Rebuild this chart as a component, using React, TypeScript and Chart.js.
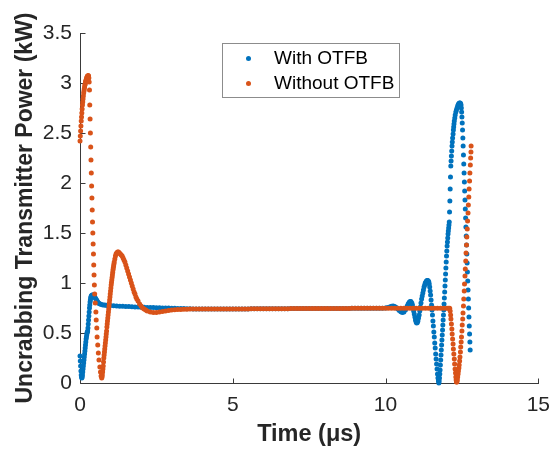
import React, { useEffect, useRef } from 'react';
import { Chart, registerables } from 'chart.js';

Chart.register(...registerables);

// ---------- data ----------
const SERIES_LABELS = ['With OTFB', 'Without OTFB'];
const X_TITLE = 'Time (μs)';
const Y_TITLE = 'Uncrabbing Transmitter Power (kW)';
const X_RANGE = [0, 15];
const X_TICK_STEP = 5;
const Y_RANGE = [0, 3.5];
const Y_TICK_STEP = 0.5;

// [time (µs), power (kW)]
const WITH_OTFB: [number, number][] = [
  [0.00,0.27],[0.01,0.22],[0.02,0.17],[0.03,0.12],[0.04,0.08],[0.05,0.06],[0.06,0.05],[0.07,0.06],[0.08,0.08],[0.09,0.11],
  [0.10,0.14],[0.11,0.17],[0.12,0.20],[0.13,0.23],[0.14,0.26],[0.15,0.29],[0.16,0.32],[0.17,0.35],[0.18,0.38],[0.19,0.41],
  [0.20,0.44],[0.21,0.46],[0.22,0.48],[0.23,0.50],[0.24,0.51],[0.25,0.52],[0.26,0.55],[0.27,0.59],[0.28,0.63],[0.29,0.67],
  [0.30,0.71],[0.31,0.75],[0.32,0.78],[0.33,0.81],[0.34,0.83],[0.35,0.85],[0.36,0.86],[0.37,0.87],[0.38,0.875],[0.40,0.88],
  [0.42,0.88],[0.44,0.875],[0.46,0.87],[0.48,0.86],[0.50,0.85],[0.52,0.84],[0.54,0.83],[0.56,0.82],[0.58,0.81],[0.60,0.80],
  [0.63,0.795],[0.66,0.79],[0.70,0.785],[0.75,0.78],[0.80,0.78],[0.85,0.778],[0.90,0.776],[0.95,0.775],[1.00,0.774],
  [1.1,0.772],[1.2,0.770],[1.3,0.768],[1.4,0.767],[1.5,0.765],[1.6,0.764],[1.7,0.762],[1.8,0.761],[1.9,0.760],[2.0,0.758],
  [2.1,0.757],[2.2,0.756],[2.3,0.755],[2.4,0.754],[2.5,0.753],[2.6,0.752],[2.7,0.751],[2.8,0.750],[2.9,0.749],[3.0,0.748],
  [3.1,0.747],[3.2,0.746],[3.3,0.745],[3.4,0.744],[3.5,0.743],[3.6,0.742],[3.7,0.741],[3.8,0.740],[3.9,0.740],[4.0,0.740],
  [4.1,0.740],[4.2,0.740],[4.3,0.740],[4.4,0.740],[4.5,0.740],[4.6,0.740],[4.7,0.740],[4.8,0.741],[4.9,0.741],[5.0,0.741],
  [5.1,0.741],[5.2,0.741],[5.3,0.741],[5.4,0.741],[5.5,0.741],[5.6,0.742],[5.7,0.742],[5.8,0.742],[5.9,0.742],[6.0,0.742],
  [6.1,0.742],[6.2,0.742],[6.3,0.743],[6.4,0.743],[6.5,0.743],[6.6,0.743],[6.7,0.743],[6.8,0.743],[6.9,0.744],[7.0,0.744],
  [7.1,0.744],[7.2,0.744],[7.3,0.744],[7.4,0.744],[7.5,0.745],[7.6,0.745],[7.7,0.745],[7.8,0.745],[7.9,0.745],[8.0,0.745],
  [8.1,0.745],[8.2,0.746],[8.3,0.746],[8.4,0.746],[8.5,0.746],[8.6,0.746],[8.7,0.746],[8.8,0.746],[8.9,0.747],[9.0,0.747],
  [9.1,0.747],[9.2,0.747],[9.3,0.747],[9.4,0.747],[9.5,0.747],[9.6,0.748],[9.7,0.748],[9.8,0.748],[9.9,0.748],[10.0,0.750],
  [10.05,0.752],[10.1,0.756],[10.15,0.762],[10.2,0.768],[10.25,0.770],[10.3,0.765],[10.35,0.755],[10.4,0.740],[10.45,0.725],[10.5,0.712],
  [10.55,0.705],[10.6,0.710],[10.65,0.730],[10.68,0.750],[10.71,0.770],[10.74,0.790],[10.77,0.805],[10.80,0.815],[10.83,0.815],[10.86,0.800],
  [10.88,0.780],[10.90,0.750],[10.92,0.720],[10.94,0.690],[10.96,0.660],[10.98,0.630],[11.00,0.610],[11.02,0.600],[11.04,0.605],[11.06,0.620],
  [11.08,0.650],[11.10,0.680],[11.12,0.720],[11.14,0.760],[11.16,0.800],[11.18,0.840],[11.20,0.870],[11.22,0.900],[11.24,0.930],[11.26,0.960],
  [11.28,0.980],[11.30,1.000],[11.32,1.010],[11.34,1.020],[11.36,1.025],[11.38,1.025],[11.40,1.020],
  [11.415,1.01],[11.43,0.99],[11.445,0.96],[11.46,0.92],[11.475,0.88],[11.49,0.83],[11.505,0.78],[11.52,0.73],[11.535,0.68],[11.55,0.62],
  [11.565,0.57],[11.58,0.51],[11.595,0.46],[11.61,0.40],[11.625,0.35],[11.64,0.29],[11.655,0.24],[11.67,0.19],[11.685,0.14],[11.70,0.09],
  [11.715,0.05],[11.73,0.02],[11.745,0.00],[11.755,0.02],[11.765,0.05],[11.775,0.09],[11.785,0.13],[11.795,0.18],[11.805,0.23],[11.815,0.28],
  [11.825,0.33],[11.835,0.38],[11.845,0.43],[11.855,0.48],[11.865,0.53],[11.875,0.58],[11.885,0.63],[11.895,0.68],[11.905,0.73],[11.915,0.79],
  [11.925,0.85],[11.935,0.91],[11.945,0.97],[11.955,1.03],[11.965,1.09],[11.975,1.15],[11.985,1.21],[11.995,1.27],[12.005,1.32],[12.015,1.37],
  [12.025,1.41],[12.035,1.45],[12.045,1.49],[12.055,1.52],[12.065,1.55],[12.075,1.58],[12.085,1.61],[12.095,1.71],[12.105,1.82],[12.115,1.94],
  [12.125,2.06],[12.135,2.17],[12.145,2.22],[12.155,2.27],[12.165,2.32],[12.175,2.37],[12.185,2.41],[12.195,2.45],[12.21,2.49],[12.22,2.53],
  [12.23,2.56],[12.24,2.59],[12.25,2.62],[12.265,2.65],[12.28,2.68],[12.30,2.71],[12.32,2.73],[12.34,2.75],[12.36,2.77],[12.38,2.785],
  [12.40,2.795],[12.42,2.80],[12.44,2.80],[12.455,2.795],[12.47,2.78],[12.48,2.75],[12.49,2.71],[12.50,2.66],[12.51,2.60],[12.52,2.53],
  [12.53,2.45],[12.54,2.37],[12.55,2.28],[12.56,2.19],[12.57,2.10],[12.58,2.01],[12.59,1.92],[12.60,1.83],[12.61,1.74],[12.62,1.65],
  [12.63,1.56],[12.64,1.47],[12.65,1.38],[12.66,1.29],[12.67,1.20],[12.68,1.11],[12.69,1.02],[12.70,0.93],[12.71,0.84],[12.72,0.75],
  [12.73,0.66],[12.74,0.57],[12.75,0.49],[12.76,0.41],[12.77,0.33],
];

const WITHOUT_OTFB: [number, number][] = [
  [0.00,2.42],[0.01,2.47],[0.02,2.52],[0.03,2.57],[0.04,2.62],[0.05,2.66],[0.06,2.70],[0.07,2.74],[0.08,2.78],[0.09,2.81],
  [0.10,2.84],[0.11,2.87],[0.12,2.90],[0.13,2.92],[0.14,2.94],[0.15,2.96],[0.16,2.98],[0.17,2.99],[0.18,3.01],[0.19,3.02],
  [0.20,3.03],[0.21,3.04],[0.22,3.05],[0.23,3.06],[0.24,3.065],[0.25,3.07],[0.26,3.07],[0.27,3.075],[0.28,3.07],[0.29,3.05],
  [0.30,3.01],[0.31,2.93],[0.32,2.78],[0.33,2.64],[0.34,2.50],[0.35,2.36],[0.36,2.23],[0.37,2.10],[0.38,1.97],[0.39,1.85],
  [0.40,1.73],[0.41,1.61],[0.42,1.50],[0.43,1.39],[0.44,1.29],[0.45,1.18],[0.46,1.08],[0.47,0.98],[0.48,0.89],[0.50,0.80],
  [0.52,0.71],[0.53,0.63],[0.55,0.55],[0.56,0.46],[0.58,0.38],[0.60,0.30],[0.62,0.23],[0.65,0.16],[0.67,0.11],[0.69,0.07],
  [0.71,0.05],[0.72,0.06],[0.73,0.08],[0.74,0.11],[0.75,0.14],[0.76,0.17],[0.77,0.21],[0.78,0.25],[0.79,0.28],[0.80,0.31],
  [0.81,0.34],[0.82,0.37],[0.83,0.40],[0.84,0.43],[0.85,0.46],[0.86,0.49],[0.87,0.52],[0.88,0.56],[0.89,0.59],[0.90,0.62],
  [0.91,0.65],[0.92,0.68],[0.93,0.71],[0.94,0.74],[0.95,0.77],[0.96,0.80],[0.97,0.83],[0.98,0.86],[0.99,0.89],[1.00,0.92],
  [1.01,0.95],[1.02,0.98],[1.03,1.005],[1.04,1.03],[1.05,1.055],[1.06,1.08],[1.07,1.105],[1.08,1.13],[1.09,1.15],[1.10,1.17],
  [1.11,1.19],[1.12,1.21],[1.14,1.24],[1.16,1.27],[1.18,1.29],[1.20,1.30],[1.23,1.31],[1.26,1.31],[1.29,1.30],[1.32,1.29],
  [1.35,1.28],[1.38,1.27],[1.41,1.25],[1.44,1.23],[1.47,1.21],[1.50,1.18],[1.53,1.15],[1.56,1.12],[1.59,1.09],[1.62,1.06],
  [1.65,1.03],[1.68,1.00],[1.71,0.97],[1.74,0.94],[1.77,0.91],[1.80,0.89],[1.83,0.86],[1.86,0.84],[1.90,0.82],[1.95,0.79],
  [2.00,0.77],[2.05,0.75],[2.10,0.74],[2.15,0.73],[2.20,0.72],[2.30,0.71],[2.40,0.705],[2.50,0.705],[2.60,0.71],[2.70,0.715],
  [2.80,0.72],[2.90,0.725],[3.00,0.73],[3.1,0.733],[3.2,0.735],[3.3,0.736],[3.4,0.737],[3.5,0.738],[3.6,0.739],[3.7,0.740],
  [3.8,0.740],[3.9,0.740],[4.0,0.740],[4.1,0.740],[4.2,0.740],[4.3,0.740],[4.4,0.740],[4.5,0.740],[4.6,0.740],[4.7,0.740],
  [4.8,0.741],[4.9,0.741],[5.0,0.741],[5.1,0.741],[5.2,0.741],[5.3,0.741],[5.4,0.741],[5.5,0.741],[5.6,0.742],[5.7,0.742],
  [5.8,0.742],[5.9,0.742],[6.0,0.742],[6.1,0.742],[6.2,0.742],[6.3,0.743],[6.4,0.743],[6.5,0.743],[6.6,0.743],[6.7,0.743],
  [6.8,0.743],[6.9,0.744],[7.0,0.744],[7.1,0.744],[7.2,0.744],[7.3,0.744],[7.4,0.744],[7.5,0.745],[7.6,0.745],[7.7,0.745],
  [7.8,0.745],[7.9,0.745],[8.0,0.745],[8.1,0.745],[8.2,0.746],[8.3,0.746],[8.4,0.746],[8.5,0.746],[8.6,0.746],[8.7,0.746],
  [8.8,0.746],[8.9,0.747],[9.0,0.747],[9.1,0.747],[9.2,0.747],[9.3,0.747],[9.4,0.747],[9.5,0.747],[9.6,0.748],[9.7,0.748],
  [9.8,0.748],[9.9,0.748],[10.0,0.748],[10.1,0.748],[10.2,0.748],[10.3,0.748],[10.4,0.748],[10.5,0.748],[10.6,0.748],[10.7,0.748],
  [10.8,0.748],[10.9,0.748],[11.0,0.748],[11.1,0.748],[11.2,0.748],[11.3,0.748],[11.4,0.748],[11.5,0.748],[11.6,0.748],[11.7,0.748],
  [11.8,0.748],[11.9,0.748],[12.0,0.748],[12.05,0.748],[12.1,0.748],
  [12.115,0.72],[12.13,0.68],[12.14,0.64],[12.155,0.59],[12.17,0.54],[12.18,0.49],[12.195,0.44],[12.21,0.39],[12.22,0.34],[12.235,0.29],
  [12.25,0.24],[12.26,0.19],[12.275,0.14],[12.29,0.10],[12.30,0.06],[12.31,0.03],[12.32,0.01],[12.335,0.01],[12.35,0.03],[12.36,0.06],
  [12.375,0.09],[12.385,0.12],[12.40,0.15],[12.41,0.18],[12.425,0.22],[12.435,0.26],[12.45,0.31],[12.46,0.36],[12.475,0.41],[12.485,0.46],
  [12.50,0.52],[12.51,0.58],[12.525,0.64],[12.535,0.70],[12.55,0.77],[12.56,0.84],[12.575,0.92],[12.585,0.99],[12.60,1.07],[12.61,1.14],
  [12.625,1.22],[12.635,1.30],[12.65,1.38],[12.66,1.46],[12.675,1.54],[12.685,1.62],[12.70,1.70],[12.71,1.78],[12.725,1.86],[12.735,1.94],
  [12.75,2.02],[12.76,2.10],[12.775,2.18],[12.785,2.25],[12.795,2.31],[12.80,2.37],
];

// ---------- styles ----------
const COLORS = ['#0072BD', '#D95319'];
const FONT = "'Liberation Sans', Arial, Helvetica, sans-serif";
const TEXT = '#262626';
const AXIS = '#3a3a3a';
const DOT_R = 2.5;

const matlabDecor = {
  id: 'matlabDecor',
  beforeDatasetsDraw(chart: any) {
    const { ctx, chartArea: a, scales } = chart;
    ctx.save();
    ctx.strokeStyle = AXIS;
    ctx.lineWidth = 1;
    const L = Math.round(a.left) + 0.5;
    const B = Math.round(a.bottom) + 0.5;
    ctx.beginPath();
    ctx.moveTo(L, Math.round(a.top));
    ctx.lineTo(L, B);
    ctx.lineTo(Math.round(a.right) + 1, B);
    scales.x.ticks.forEach((t: any) => {
      const px = Math.round(scales.x.getPixelForValue(t.value)) + 0.5;
      ctx.moveTo(px, B);
      ctx.lineTo(px, B - 5);
    });
    scales.y.ticks.forEach((t: any) => {
      const py = Math.round(scales.y.getPixelForValue(t.value)) + 0.5;
      ctx.moveTo(L, py);
      ctx.lineTo(L + 5, py);
    });
    ctx.stroke();
    ctx.restore();
  },
  afterDraw(chart: any) {
    const { ctx } = chart;
    ctx.save();
    ctx.fillStyle = '#ffffff';
    ctx.fillRect(222, 43, 178, 55);
    ctx.strokeStyle = '#8c8c8c';
    ctx.lineWidth = 1;
    ctx.strokeRect(222.5, 43.5, 177, 54);
    const rows = [59, 84];
    ctx.font = `19px ${FONT}`;
    ctx.textBaseline = 'middle';
    ctx.textAlign = 'left';
    chart.data.datasets.forEach((ds: any, i: number) => {
      const y = rows[i];
      ctx.fillStyle = ds.backgroundColor;
      ctx.beginPath();
      ctx.arc(248.5, y - 0.5, DOT_R, 0, Math.PI * 2);
      ctx.fill();
      ctx.fillStyle = '#000000';
      ctx.fillText(ds.label, 274, y);
    });
    ctx.restore();
  },
};

export default function App() {
  const canvasRef = useRef<HTMLCanvasElement | null>(null);

  useEffect(() => {
    if (!canvasRef.current) return;
    const series = [WITH_OTFB, WITHOUT_OTFB];
    const chart = new Chart(canvasRef.current, {
      type: 'scatter',
      data: {
        datasets: series.map((s, i) => ({
          label: SERIES_LABELS[i],
          data: s.map(([x, y]) => ({ x, y })),
          backgroundColor: COLORS[i],
          borderColor: COLORS[i],
          pointRadius: DOT_R,
          pointHoverRadius: DOT_R,
          pointBorderWidth: 0,
          showLine: false,
          clip: false as any,
          order: i === 0 ? 2 : 1,
        })),
      },
      options: {
        animation: false,
        responsive: false,
        devicePixelRatio: 1,
        events: [],
        layout: { padding: { left: 0, right: 17, top: 33, bottom: 0 } },
        plugins: { legend: { display: false }, tooltip: { enabled: false } },
        scales: {
          x: {
            type: 'linear',
            min: X_RANGE[0],
            max: X_RANGE[1],
            grid: { display: false, drawTicks: false },
            border: { display: false },
            ticks: {
              stepSize: X_TICK_STEP, padding: 10, color: TEXT,
              font: { family: FONT, size: 21 },
              callback: (v: any) => `${+v}`,
            },
            title: {
              display: true,
              text: X_TITLE,
              color: TEXT,
              font: { family: FONT, size: 23.5, weight: 'bold' },
              padding: { top: 0, bottom: 2 },
            },
            afterFit: (scale: any) => { scale.height = 68; },
          },
          y: {
            type: 'linear',
            min: Y_RANGE[0],
            max: Y_RANGE[1],
            grid: { display: false, drawTicks: false },
            border: { display: false },
            ticks: {
              stepSize: Y_TICK_STEP, padding: 8, color: TEXT,
              font: { family: FONT, size: 21 },
              callback: (v: any) => `${+v}`,
            },
            title: {
              display: true,
              text: Y_TITLE,
              color: TEXT,
              font: { family: FONT, size: 23, weight: 'bold' },
              padding: { top: 12, bottom: 0 },
            },
            afterFit: (scale: any) => { scale.width = 80; },
          },
        },
      },
      plugins: [matlabDecor],
    } as any);
    return () => chart.destroy();
  }, []);

  return (
    <div style={{ position: 'absolute', left: 0, top: 0, width: 560, height: 451, background: '#fff' }}>
      <canvas ref={canvasRef} width={560} height={451} style={{ display: 'block' }} />
    </div>
  );
}
